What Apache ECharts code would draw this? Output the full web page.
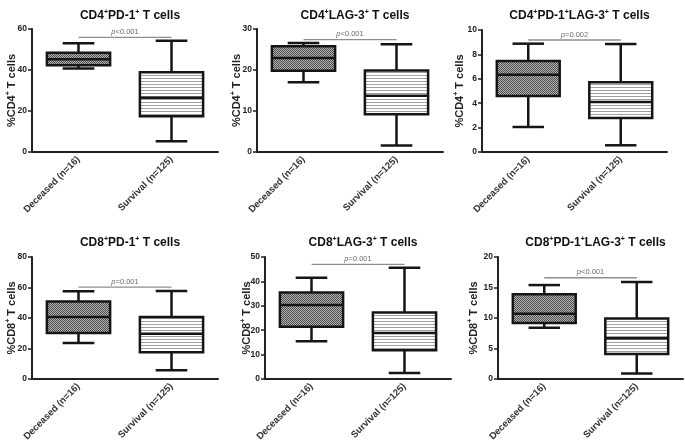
<!DOCTYPE html>
<html><head><meta charset="utf-8">
<script src="https://cdn.jsdelivr.net/npm/echarts@6/dist/echarts.min.js"></script>
<style>html,body{margin:0;padding:0;background:#fff}#c{width:685px;height:446px}</style>
</head><body><div id="c"></div>
<script>
const categories = ['Deceased (n=16)', 'Survival (n=125)'];
const titles = ['CD4{s|+}PD-1{s|+} T cells', 'CD4{s|+}LAG-3{s|+} T cells', 'CD4{s|+}PD-1{s|+}LAG-3{s|+} T cells',
                'CD8{s|+}PD-1{s|+} T cells', 'CD8{s|+}LAG-3{s|+} T cells', 'CD8{s|+}PD-1{s|+}LAG-3{s|+} T cells'];
const yNames = ['%CD4{s|+} T cells', '%CD4{s|+} T cells', '%CD4{s|+} T cells', '%CD8{s|+} T cells', '%CD8{s|+} T cells', '%CD8{s|+} T cells'];
const yMax = [60, 30, 10, 80, 50, 20];
const yInterval = [20, 10, 2, 20, 10, 5];
// [min, Q1, median, Q3, max]
const deceased = [
  [40.7, 42.3, 45.3, 48.4, 53.0],
  [17.0, 19.8, 22.9, 25.8, 26.6],
  [2.05, 4.59, 6.34, 7.46, 8.88],
  [23.6, 30.2, 40.6, 50.9, 57.5],
  [15.5, 21.4, 30.3, 35.5, 41.5],
  [8.4, 9.2, 10.7, 13.9, 15.4]
];
const survival = [
  [5.2, 17.5, 26.5, 38.9, 54.3],
  [1.6, 9.2, 13.7, 19.9, 26.3],
  [0.55, 2.79, 4.10, 5.71, 8.85],
  [5.7, 17.5, 29.7, 40.6, 57.7],
  [2.5, 11.8, 18.9, 27.3, 45.6],
  [0.9, 4.1, 6.7, 9.9, 15.9]
];
const sigY = [55.9, 27.4, 9.18, 60.3, 47.0, 16.6];
const pLabels = ['{i|p}<0.001', '{i|p}<0.001', '{i|p}=0.002', '{i|p}=0.001', '{i|p}=0.001', '{i|p}<0.001'];

// layout (px)
const grids = [
  {left: 32, top: 29, width: 186, height: 123},
  {left: 257, top: 29, width: 186, height: 123},
  {left: 482, top: 30, width: 185, height: 122},
  {left: 32, top: 257, width: 186, height: 122},
  {left: 265, top: 257, width: 186, height: 122},
  {left: 498, top: 257, width: 185, height: 122}
];
const titleY = [4, 4, 4, 231, 231, 231];
const nameGaps = [14, 14, 16, 14, 12, 18];

function makePattern(type) {
  const cv = document.createElement('canvas');
  if (type === 'check') {
    cv.width = 2; cv.height = 2;
    const g = cv.getContext('2d');
    g.fillStyle = '#b4b4b4'; g.fillRect(0, 0, 2, 2);
    g.fillStyle = '#4c4c4c'; g.fillRect(0, 0, 1, 1); g.fillRect(1, 1, 1, 1);
  } else {
    cv.width = 4; cv.height = 3;
    const g = cv.getContext('2d');
    g.fillStyle = '#ffffff'; g.fillRect(0, 0, 4, 3);
    g.fillStyle = '#a0a0a0'; g.fillRect(0, 0, 4, 1);
  }
  return {image: cv, repeat: 'repeat'};
}
const pats = [makePattern('check'), makePattern('lines')];

const FONT = 'Arial, "Liberation Sans", sans-serif';

const option = {
  animation: false,
  backgroundColor: '#fff',
  title: [], grid: [], xAxis: [], yAxis: [], series: []
};

for (let k = 0; k < 6; k++) {
  const gr = grids[k];
  option.grid.push(Object.assign({}, gr));
  option.title.push({
    text: titles[k], left: gr.left + gr.width / 2, top: titleY[k], textAlign: 'center',
    textStyle: {fontSize: 12, fontWeight: 'bold', color: '#111', fontFamily: FONT, rich: {s: {fontSize: 7, fontWeight: 'bold', fontFamily: FONT, color: '#111', padding: [0, 0, 6, 0]}}}
  });
  option.xAxis.push({
    type: 'category', gridIndex: k, data: categories, boundaryGap: true,
    axisLine: {lineStyle: {color: '#222', width: 2}},
    axisTick: {alignWithLabel: true, length: 4, lineStyle: {color: '#222', width: 1.5}},
    axisLabel: {rotate: 45, fontSize: 9.5, fontWeight: 'bold', color: '#333', fontFamily: FONT, margin: 6, interval: 0},
    splitLine: {show: false}
  });
  option.yAxis.push({
    type: 'value', gridIndex: k, min: 0, max: yMax[k], interval: yInterval[k],
    name: yNames[k], nameLocation: 'middle', nameGap: nameGaps[k], nameMoveOverlap: false,
    nameTextStyle: {fontSize: 11, fontWeight: 'bold', color: '#222', fontFamily: FONT, rich: {s: {fontSize: 7, fontWeight: 'bold', fontFamily: FONT, color: '#222', padding: [0, 0, 6, 0]}}},
    axisLine: {show: true, lineStyle: {color: '#222', width: 2}},
    axisTick: {show: true, length: 4, lineStyle: {color: '#222', width: 1.5}},
    axisLabel: {fontSize: 8.5, fontWeight: 'bold', color: '#222', fontFamily: FONT, margin: 5},
    splitLine: {show: false}
  });
  const boxData = [[0].concat(deceased[k]), [1].concat(survival[k])];
  option.series.push({
    type: 'custom', xAxisIndex: k, yAxisIndex: k,
    encode: {x: 0, y: [1, 2, 3, 4, 5]},
    data: boxData,
    renderItem: function (params, api) {
      const ci = api.value(0);
      const v = [1, 2, 3, 4, 5].map(i => api.value(i));
      const p = v.map(val => api.coord([ci, val]));
      const band = api.size([1, 0])[0];
      const bw = band * 0.68;
      const cx = p[0][0];
      const lw = 2.5, col = '#151515';
      const line = (x1, y1, x2, y2) => ({type: 'line', shape: {x1, y1, x2, y2}, style: {stroke: col, lineWidth: lw}});
      return {type: 'group', children: [
        line(cx, p[4][1], cx, p[3][1]),
        line(cx, p[1][1], cx, p[0][1]),
        line(cx - bw / 4, p[4][1], cx + bw / 4, p[4][1]),
        line(cx - bw / 4, p[0][1], cx + bw / 4, p[0][1]),
        {type: 'rect', shape: {x: cx - bw / 2, y: p[3][1], width: bw, height: p[1][1] - p[3][1]},
         style: {fill: pats[ci], stroke: col, lineWidth: lw}},
        line(cx - bw / 2, p[2][1], cx + bw / 2, p[2][1])
      ]};
    }
  });
  option.series.push({
    type: 'custom', xAxisIndex: k, yAxisIndex: k,
    encode: {x: [0, 1], y: 2},
    data: [[0, 1, sigY[k], pLabels[k]]],
    renderItem: function (params, api) {
      const a = api.coord([api.value(0), api.value(2)]);
      const b = api.coord([api.value(1), api.value(2)]);
      return {type: 'group', children: [
        {type: 'line', shape: {x1: a[0], y1: a[1], x2: b[0], y2: b[1]}, style: {stroke: '#8e8e8e', lineWidth: 1.3}},
        {type: 'text', x: (a[0] + b[0]) / 2, y: a[1] - 1.5,
         style: {text: api.value(3), fill: '#6a6a6a', fontSize: 7.5, fontFamily: FONT, align: 'center', verticalAlign: 'bottom',
                 rich: {i: {fontStyle: 'italic', fontSize: 7.5, fontFamily: FONT, fill: '#6a6a6a'}}}}
      ]};
    }
  });
}

const chart = echarts.init(document.getElementById('c'), null, {renderer: 'canvas'});
chart.setOption(option);
</script>
</body></html>
